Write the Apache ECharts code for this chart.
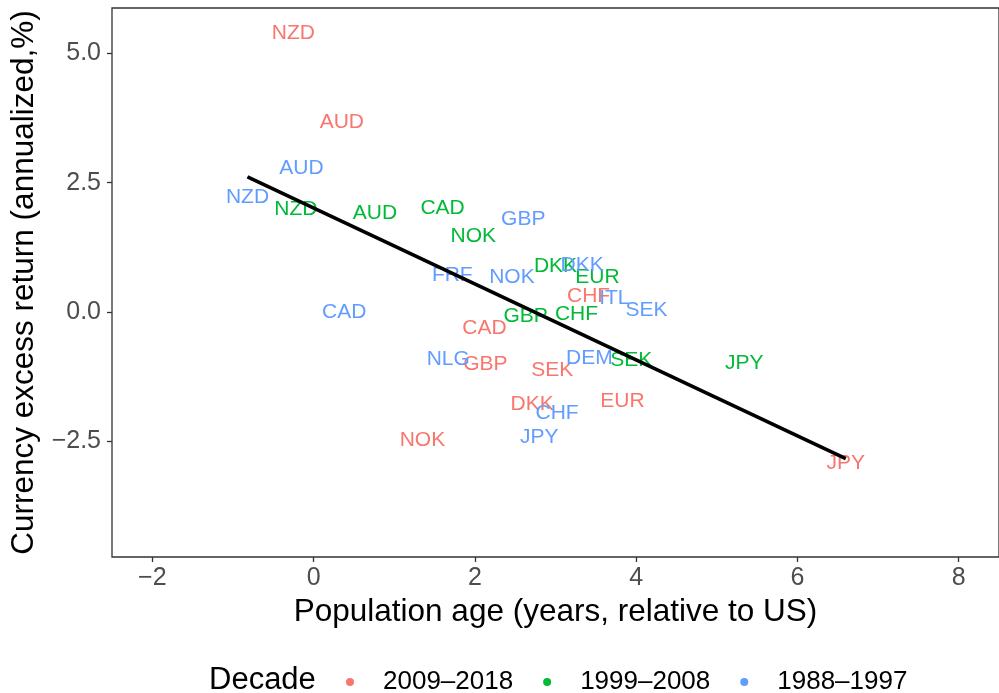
<!DOCTYPE html>
<html><head><meta charset="utf-8">
<script src="https://cdn.jsdelivr.net/npm/echarts@6/dist/echarts.min.js"></script>
<style>html,body{margin:0;padding:0;background:#fff}#c{width:999px;height:693px}</style>
</head><body><div id="c"></div>
<script>
// Decades (legend order)
const decades = ['2009–2018', '1999–2008', '1988–1997'];
const colors = ['#F8766D', '#00BA38', '#619CFF'];

// 2009–2018
const names2009 = ['NZD','AUD','CAD','CHF','GBP','SEK','DKK','EUR','NOK','JPY'];
const x2009 = [-0.25, 0.35, 2.12, 3.41, 2.13, 2.96, 2.71, 3.83, 1.35, 6.60];
const y2009 = [5.39, 3.67, -0.31, 0.31, -1.02, -1.12, -1.78, -1.72, -2.49, -2.92];

// 1999–2008
const names1999 = ['NZD','AUD','CAD','NOK','DKK','EUR','GBP','CHF','SEK','JPY'];
const x1999 = [-0.22, 0.76, 1.60, 1.98, 3.00, 3.52, 2.63, 3.26, 3.94, 5.34];
const y1999 = [1.99, 1.91, 2.01, 1.47, 0.89, 0.68, -0.08, -0.04, -0.93, -0.99];

// 1988–1997
const names1988 = ['AUD','NZD','GBP','DKK','FRF','NOK','ITL','SEK','CAD','NLG','DEM','CHF','JPY'];
const x1988 = [-0.15, -0.82, 2.60, 3.33, 1.72, 2.46, 3.73, 4.13, 0.38, 1.67, 3.42, 3.02, 2.80];
const y1988 = [2.78, 2.22, 1.80, 0.91, 0.72, 0.68, 0.27, 0.04, 0.00, -0.91, -0.90, -1.95, -2.43];

// Axis ticks
const xTicks = [-2, 0, 2, 4, 6, 8];
const yTicks = [-2.5, 0, 2.5, 5];

const groups = [
  {n: names2009, x: x2009, y: y2009},
  {n: names1999, x: x1999, y: y1999},
  {n: names1988, x: x1988, y: y1988}
];

// OLS fit across all points
const allX = [].concat(x2009, x1999, x1988);
const allY = [].concat(y2009, y1999, y1988);
const mx = allX.reduce((a,b)=>a+b,0)/allX.length;
const my = allY.reduce((a,b)=>a+b,0)/allY.length;
let sxy = 0, sxx = 0;
for (let i = 0; i < allX.length; i++) { sxy += (allX[i]-mx)*(allY[i]-my); sxx += (allX[i]-mx)**2; }
const slope = sxy/sxx, icpt = my - slope*mx;
const xLo = Math.min(...allX), xHi = Math.max(...allX);

const FONT = '"Liberation Sans", Arial, Helvetica, sans-serif';
const minus = s => String(s).replace('-', '\u2212');

const series = groups.map((g, k) => ({
  name: decades[k],
  type: 'scatter',
  symbol: 'circle',
  symbolSize: 0,
  itemStyle: {color: colors[k], opacity: 1},
  data: g.n.map((nm, i) => ({name: nm, value: [g.x[i], g.y[i]]})),
  label: {show: true, position: 'inside', formatter: '{b}', color: colors[k], opacity: 1,
          fontSize: 21, fontFamily: FONT},
  emphasis: {disabled: true},
  z: 2
}));
series.push({
  type: 'line', name: 'fit', silent: true, symbol: 'none',
  data: [[xLo, icpt + slope*xLo], [xHi, icpt + slope*xHi]],
  lineStyle: {color: '#000', width: 3.6}, z: 5
});

const chart = echarts.init(document.getElementById('c'), null, {renderer: 'canvas'});
chart.setOption({
  animation: false,
  backgroundColor: '#fff',
  textStyle: {fontFamily: FONT},
  title: {text: 'Decade', left: 204, top: 660,
          textStyle: {fontSize: 31, fontWeight: 'normal', color: '#000', fontFamily: FONT}},
  legend: {
    data: decades, left: 341, top: 664, orient: 'horizontal',
    icon: 'circle', itemWidth: 8, itemHeight: 8, itemGap: 30,
    itemStyle: {opacity: 1},
    textStyle: {fontSize: 26, color: '#000', fontFamily: FONT, padding: [0, 0, 0, 24]},
    selectedMode: false
  },
  grid: {left: 112, top: 8, width: 890, height: 549, show: true,
         borderColor: '#333', borderWidth: 1.3, containLabel: false},
  xAxis: {
    type: 'value', min: -2.5, max: 8.5,
    name: 'Population age (years, relative to US)', nameLocation: 'middle', nameGap: 38,
    nameTextStyle: {fontSize: 31.5, color: '#000', fontFamily: FONT},
    axisLine: {show: false, onZero: false},
    axisTick: {show: true, customValues: xTicks, length: 5, lineStyle: {color: '#333', width: 1.3}},
    axisLabel: {customValues: xTicks, fontSize: 25, color: '#4D4D4D', margin: 9,
                formatter: v => minus(v), fontFamily: FONT},
    splitLine: {show: false}
  },
  yAxis: {
    type: 'value', min: -4.74, max: 5.88,
    name: 'Currency excess return (annualized,%)', nameLocation: 'middle', nameGap: 63,
    nameTextStyle: {fontSize: 31.5, color: '#000', fontFamily: FONT},
    axisLine: {show: false, onZero: false},
    axisTick: {show: true, customValues: yTicks, length: 5, lineStyle: {color: '#333', width: 1.3}},
    axisLabel: {customValues: yTicks, fontSize: 25, color: '#4D4D4D', margin: 11,
                formatter: v => minus(v.toFixed(1)), fontFamily: FONT},
    splitLine: {show: false}
  },
  series: series
});
</script></body></html>
